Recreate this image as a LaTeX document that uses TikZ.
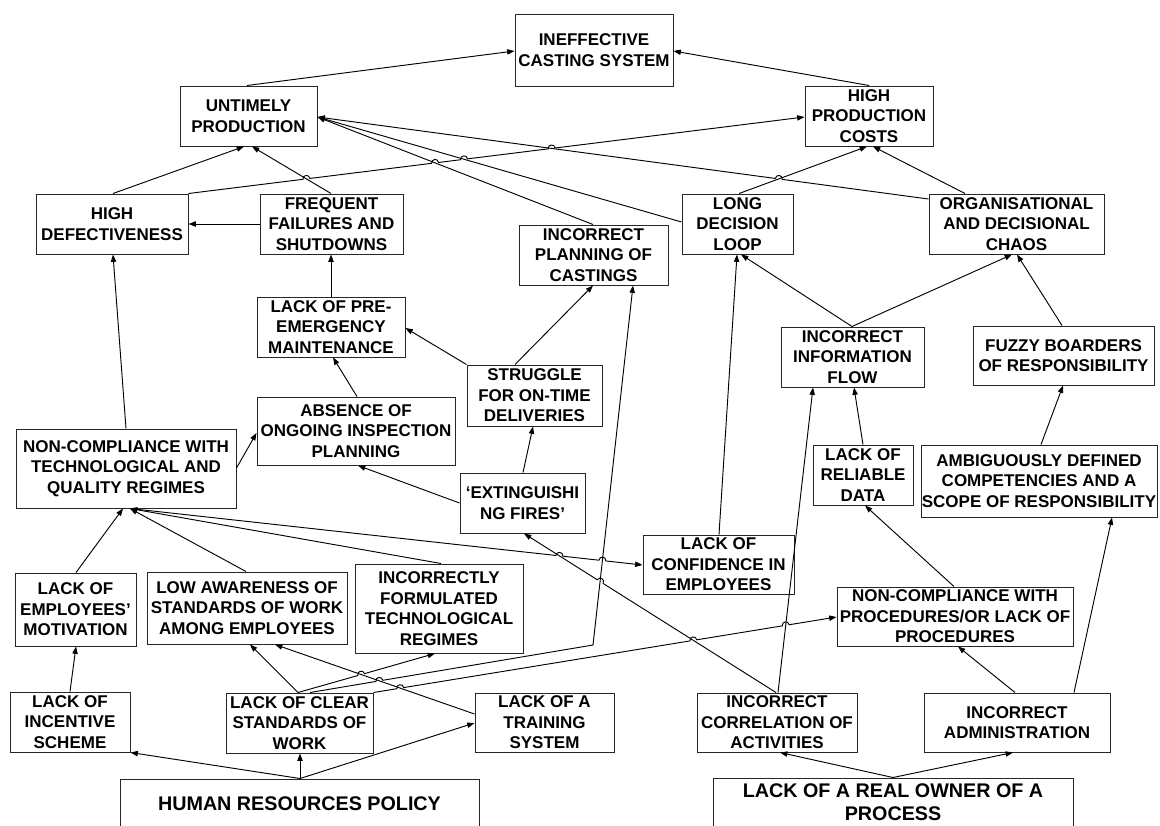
\documentclass[tikz,border=0pt]{standalone}
\usepackage{fontspec}
\setmainfont{Liberation Sans}
\usetikzlibrary{calc,arrows.meta}
\newcommand\bx[6]{\node[box,minimum width={(#4-#2)*0.75pt},minimum height={(#5-#3)*0.75pt}] (#1) at ({(#2+#4)/2},{(#3+#5)/2}) {#6};}
\newcommand\bxb[6]{\node[box,bigtext,minimum width={(#4-#2)*0.75pt},minimum height={(#5-#3)*0.75pt}] (#1) at ({(#2+#4)/2},{(#3+#5)/2}) {#6};}
\begin{document}
\begin{tikzpicture}[x=0.75pt,y=-0.75pt,
  box/.style={draw=black!85,line width=0.75pt,inner sep=0pt,align=center,
    font=\fontsize{12.75}{15.4}\selectfont\bfseries},
  bigtext/.style={font=\fontsize{14.8}{17}\selectfont\bfseries},
  conn/.style={draw=black,line width=0.7pt,-{Triangle[length=5.5pt,width=4pt]}},
  hopL/.style={bend left=90,looseness=1.7},
  hopR/.style={bend right=90,looseness=1.7}]
\useasboundingbox (0,0) rectangle (1160,825);
\fill[white] (0,0) rectangle (1160,825);
\clip (0,0) rectangle (1160,825);

\bx{ineff}{515}{14}{673}{86}{INEFFECTIVE\\CASTING SYSTEM}
\bx{untimely}{180}{86}{317}{146}{UNTIMELY\\PRODUCTION}
\bx{hpc}{805}{86}{933}{146}{HIGH\\PRODUCTION\\COSTS}
\bx{hd}{36}{194}{188}{254}{HIGH\\DEFECTIVENESS}
\bx{ffs}{260}{194}{403}{254}{FREQUENT\\FAILURES AND\\SHUTDOWNS}
\bx{ldl}{682}{194}{793}{254}{LONG\\DECISION\\LOOP}
\bx{odc}{929}{194}{1104}{254}{ORGANISATIONAL\\AND DECISIONAL\\CHAOS}
\bx{ipc}{519}{225}{668}{285}{INCORRECT\\PLANNING OF\\CASTINGS}
\bx{lpm}{257}{297}{405}{357}{LACK OF PRE-\\EMERGENCY\\MAINTENANCE}
\bx{sod}{467}{365}{602}{426}{STRUGGLE\\FOR ON-TIME\\DELIVERIES}
\bx{iif}{781}{327}{924}{387}{INCORRECT\\INFORMATION\\FLOW}
\bx{fbr}{973}{326}{1154}{385}{FUZZY BOARDERS\\OF RESPONSIBILITY}
\bx{aoi}{257}{397}{455}{465}{ABSENCE OF\\ONGOING INSPECTION\\PLANNING}
\bx{nct}{16}{429}{236}{508}{NON-COMPLIANCE WITH\\TECHNOLOGICAL AND\\QUALITY REGIMES}
\bx{ef}{460}{473}{585}{533}{‘EXTINGUISHI\\NG FIRES’}
\bx{lrd}{813}{445}{913}{505}{LACK OF\\RELIABLE\\DATA}
\bx{adc}{921}{445}{1157}{517}{AMBIGUOUSLY DEFINED\\COMPETENCIES AND A\\SCOPE OF RESPONSIBILITY}
\bx{lce}{643}{535}{794}{594}{LACK OF\\CONFIDENCE IN\\EMPLOYEES}
\bx{lem}{15}{573}{136}{646}{LACK OF\\EMPLOYEES’\\MOTIVATION}
\bx{law}{147}{572}{347}{644}{LOW AWARENESS OF\\STANDARDS OF WORK\\AMONG EMPLOYEES}
\bx{ift}{355}{564}{523}{653}{INCORRECTLY\\FORMULATED\\TECHNOLOGICAL\\REGIMES}
\bx{ncp}{837}{587}{1073}{646}{NON-COMPLIANCE WITH\\PROCEDURES/OR LACK OF\\PROCEDURES}
\bx{lis}{10}{692}{130}{752}{LACK OF\\INCENTIVE\\SCHEME}
\bx{lcs}{226}{693}{373}{753}{LACK OF CLEAR\\STANDARDS OF\\WORK}
\bx{lts}{475}{693}{614}{752}{LACK OF A\\TRAINING\\SYSTEM}
\bx{ica}{697}{693}{857}{752}{INCORRECT\\CORRELATION OF\\ACTIVITIES}
\bx{iad}{924}{693}{1110}{752}{INCORRECT\\ADMINISTRATION}
\bxb{hrp}{120}{779}{479}{828}{HUMAN RESOURCES POLICY}
\bxb{lro}{713}{778}{1073}{826}{LACK OF A REAL OWNER OF A\\PROCESS}

% endpoints used by hopped connectors
\coordinate (c6a) at (hd.north east);
\coordinate (c6b) at (hpc.west |- 0,117);
\coordinate (c4a) at (ffs.north -| 331,0);
\coordinate (c4b) at (untimely.south -| 252,0);
\coordinate (ue) at (untimely.east |- 0,117);
\coordinate (c7a) at (odc.west |- 0,199);
\coordinate (c8a) at (ldl.west |- 0,222);
\coordinate (c9a) at (ipc.north -| 593,0);
\coordinate (c10a) at (ldl.north -| 739,0);
\coordinate (c10b) at (hpc.south -| 867,0);
\coordinate (c23a) at (nct.south -| 130,0);
\coordinate (c23b) at (lce.west |- 0,565);
\coordinate (c45a) at (ica.north -| 776,0);
\coordinate (c45b) at (ef.south -| 524,0);
\coordinate (c31a) at (lcs.north -| 310,0);
\coordinate (bend1) at (593,645);
\coordinate (c31b) at (ipc.south -| 633,0);
\coordinate (c30a) at (lts.west |- 0,714);
\coordinate (c30b) at (law.south -| 275,0);
\coordinate (c29a) at (lcs.north -| 298,0);
\coordinate (c29b) at (ift.south -| 435,0);
\coordinate (c32a) at (lcs.north east);
\coordinate (c32b) at (ncp.west |- 0,617);
\coordinate (c34a) at (ica.north -| 778,0);
\coordinate (c34b) at (iif.south -| 813,0);

\coordinate (h1) at (intersection of c6a--c6b and c4a--c4b);
\coordinate (h2) at (intersection of c6a--c6b and c9a--ue);
\coordinate (h3) at (intersection of c6a--c6b and c8a--ue);
\coordinate (h4) at (intersection of c6a--c6b and c7a--ue);
\coordinate (h13) at (intersection of c7a--ue and c10a--c10b);
\coordinate (h5) at (intersection of c23a--c23b and c45a--c45b);
\coordinate (h6) at (intersection of c23a--c23b and bend1--c31b);
\coordinate (h7) at (intersection of c45a--c45b and bend1--c31b);
\coordinate (h8) at (intersection of c29a--c29b and c30a--c30b);
\coordinate (h9) at (intersection of c31a--bend1 and c30a--c30b);
\coordinate (h10) at (intersection of c32a--c32b and c30a--c30b);
\coordinate (h11) at (intersection of c32a--c32b and c45a--c45b);
\coordinate (h12) at (intersection of c32a--c32b and c34a--c34b);

% top level
\draw[conn] (untimely.north -| 247,0) -- (ineff.west |- 0,51);
\draw[conn] (hpc.north -| 869,0) -- (ineff.east |- 0,51);
\draw[conn] (hd.north -| 113,0) -- (untimely.south -| 244,0);
\draw[conn] (c4a) -- (c4b);
\draw[conn] (ffs.west |- 0,224) -- (hd.east |- 0,224);
\draw[conn] (c6a) -- ($(h1)!2.6pt!(c6a)$) to[hopL] ($(h1)!2.6pt!(c6b)$)
  -- ($(h2)!2.6pt!(c6a)$) to[hopL] ($(h2)!2.6pt!(c6b)$)
  -- ($(h3)!2.6pt!(c6a)$) to[hopL] ($(h3)!2.6pt!(c6b)$)
  -- ($(h4)!2.6pt!(c6a)$) to[hopL] ($(h4)!2.6pt!(c6b)$) -- (c6b);
\draw[conn] (c7a) -- ($(h13)!2.6pt!(c7a)$) to[hopR] ($(h13)!2.6pt!(ue)$) -- (ue);
\draw[conn] (c8a) -- (ue);
\draw[conn] (c9a) -- (ue);
\draw[conn] (c10a) -- (c10b);
\draw[conn] (odc.north -| 965,0) -- (hpc.south -| 873,0);

% middle left
\draw[conn] (lpm.north -| 331,0) -- (ffs.south -| 331,0);
\draw[conn] (aoi.north -| 357,0) -- (lpm.south -| 333,0);
\draw[conn] (sod.north west) -- (lpm.east |- 0,328);
\draw[conn] (sod.north -| 515,0) -- (ipc.south -| 593,0);
\draw[conn] (ef.north -| 523,0) -- (sod.south -| 533,0);
\draw[conn] (ef.west |- 0,503) -- (aoi.south -| 358,0);
\draw[conn] (nct.east |- 0,468) -- (aoi.west |- 0,433);
\draw[conn] (nct.north -| 126,0) -- (hd.south -| 113,0);
\draw[conn] (lem.north -| 76,0) -- (nct.south -| 123,0);
\draw[conn] (law.north -| 246,0) -- (nct.south -| 130,0);
\draw[conn] (ift.north -| 441,0) -- (nct.south -| 130,0);
\draw[conn] (c23a) -- ($(h5)!2.6pt!(c23a)$) to[hopL] ($(h5)!2.6pt!(c23b)$)
  -- ($(h6)!2.6pt!(c23a)$) to[hopL] ($(h6)!2.6pt!(c23b)$) -- (c23b);

% human resources
\draw[conn] (lis.north -| 70,0) -- (lem.south -| 76,0);
\coordinate (hrtop) at (hrp.north -| 300,0);
\draw[conn] (hrtop) -- (lis.south east);
\draw[conn] (hrtop) -- (lcs.south -| 300,0);
\draw[conn] (hrtop) -- (lts.west |- 0,723);
\draw[conn] (lcs.north -| 298,0) -- (law.south -| 250,0);
\draw[conn] (c29a) -- ($(h8)!2.6pt!(c29a)$) to[hopL] ($(h8)!2.6pt!(c29b)$) -- (c29b);
\draw[conn] (c30a) -- (c30b);
\draw[conn] (c31a) -- ($(h9)!2.6pt!(c31a)$) to[hopL] ($(h9)!2.6pt!(bend1)$) -- (bend1) -- (c31b);
\draw[conn] (c32a) -- ($(h10)!2.6pt!(c32a)$) to[hopL] ($(h10)!2.6pt!(c32b)$)
  -- ($(h11)!2.6pt!(c32a)$) to[hopL] ($(h11)!2.6pt!(c32b)$)
  -- ($(h12)!2.6pt!(c32a)$) to[hopL] ($(h12)!2.6pt!(c32b)$) -- (c32b);

% right side
\draw[conn] (lce.north -| 719,0) -- (ldl.south -| 737,0);
\draw[conn] (c34a) -- (c34b);
\draw[conn] (lrd.north -| 863,0) -- (iif.south -| 854,0);
\coordinate (iiftop) at (iif.north -| 852,0);
\draw[conn] (iiftop) -- (ldl.south -| 741,0);
\draw[conn] (iiftop) -- (odc.south -| 1012,0);
\draw[conn] (fbr.north -| 1062,0) -- (odc.south -| 1017,0);
\draw[conn] (adc.north -| 1041,0) -- (fbr.south -| 1063,0);
\draw[conn] (iad.north -| 1074,0) -- (adc.south -| 1112,0);
\draw[conn] (iad.north -| 1015,0) -- (ncp.south -| 958,0);
\draw[conn] (ncp.north -| 954,0) -- (lrd.south -| 865,0);
\coordinate (lrotop) at (lro.north -| 893,0);
\draw[conn] (lrotop) -- (ica.south -| 780,0);
\draw[conn] (lrotop) -- (iad.south -| 1013,0);
\draw[conn] (c45a) -- ($(h7)!2.6pt!(c45a)$) to[hopR] ($(h7)!2.6pt!(c45b)$) -- (c45b);
\end{tikzpicture}
\end{document}
